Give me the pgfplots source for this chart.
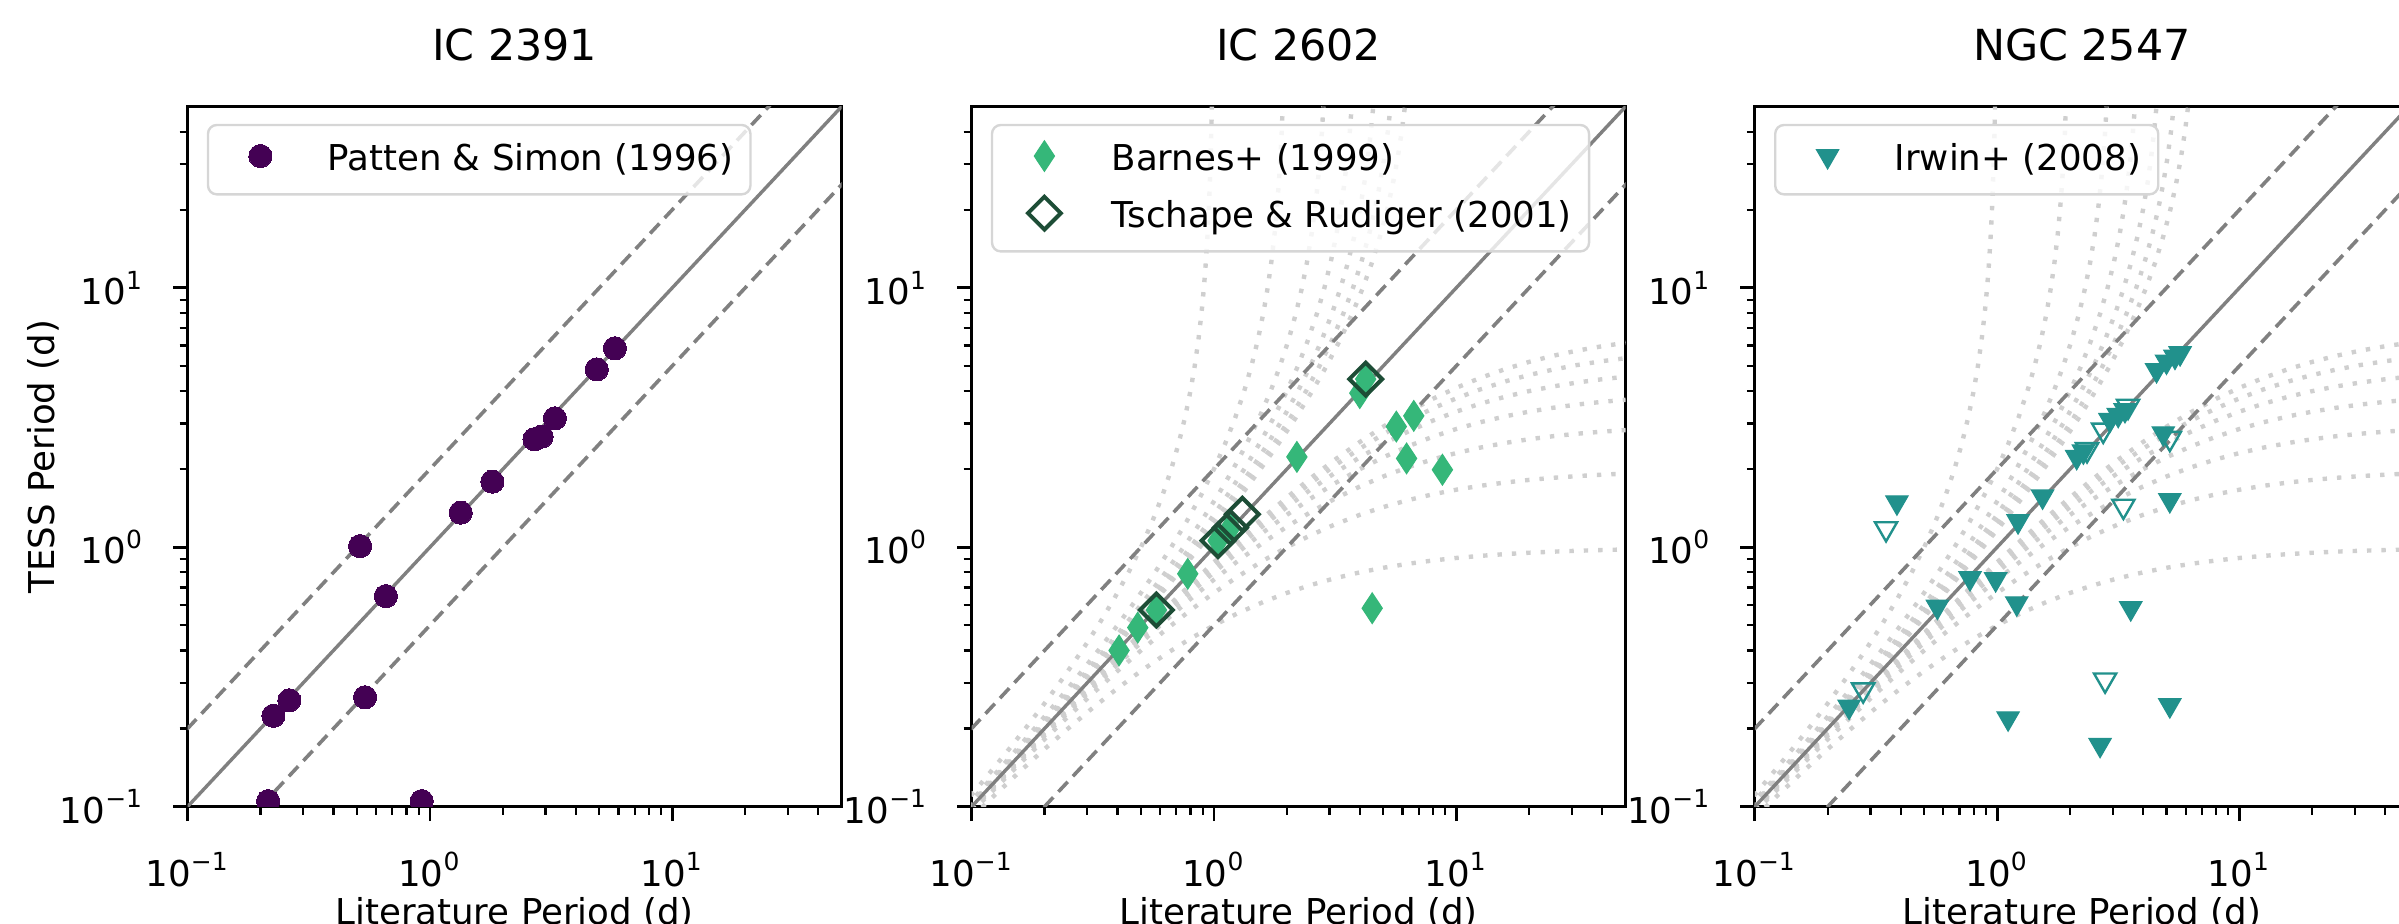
\documentclass[border=0pt]{standalone}
\usepackage{pgfplots}
\pgfplotsset{compat=1.18}
\usepackage{pgfplotstable}
\usepackage{fontspec}
\setmainfont{DejaVu Sans}
\definecolor{cpurple}{HTML}{440154}
\definecolor{cgreen}{HTML}{35B779}
\definecolor{cdark}{HTML}{1D4D36}
\definecolor{cteal}{HTML}{21918C}
\definecolor{lgray}{HTML}{D6D6D6}
\definecolor{refgray}{HTML}{808080}
\definecolor{curvegray}{HTML}{CFCFCF}
\newcommand{\lblfont}{\fontsize{8.9pt}{10.7pt}\selectfont}
\newcommand{\ttlfont}{\fontsize{10.7pt}{13pt}\selectfont}
\newcommand{\tl}[1]{10\textsuperscript{#1}}

% alias curves y = xT/(x+T), T = 1..7
\pgfplotstableread{
x l1 l2 l3 l4 l5 l6 l7
0.1 0.0909 0.0952 0.0968 0.0976 0.0980 0.0984 0.0986
0.125 0.1111 0.1176 0.1200 0.1212 0.1220 0.1224 0.1228
0.16 0.1379 0.1481 0.1519 0.1538 0.1550 0.1558 0.1564
0.2 0.1667 0.1818 0.1875 0.1905 0.1923 0.1935 0.1944
0.25 0.2000 0.2222 0.2308 0.2353 0.2381 0.2400 0.2414
0.315 0.2395 0.2721 0.2851 0.2920 0.2963 0.2993 0.3014
0.4 0.2857 0.3333 0.3529 0.3636 0.3704 0.3750 0.3784
0.5 0.3333 0.4000 0.4286 0.4444 0.4545 0.4615 0.4667
0.63 0.3865 0.4791 0.5207 0.5443 0.5595 0.5701 0.5780
0.8 0.4444 0.5714 0.6316 0.6667 0.6897 0.7059 0.7179
1 0.5000 0.6667 0.7500 0.8000 0.8333 0.8571 0.8750
1.25 0.5556 0.7692 0.8824 0.9524 1.0000 1.0345 1.0606
1.6 0.6154 0.8889 1.0435 1.1429 1.2121 1.2632 1.3023
2 0.6667 1.0000 1.2000 1.3333 1.4286 1.5000 1.5556
2.5 0.7143 1.1111 1.3636 1.5385 1.6667 1.7647 1.8421
3.15 0.7590 1.2233 1.5366 1.7622 1.9325 2.0656 2.1724
4 0.8000 1.3333 1.7143 2.0000 2.2222 2.4000 2.5455
5 0.8333 1.4286 1.8750 2.2222 2.5000 2.7273 2.9167
6.3 0.8630 1.5181 2.0323 2.4466 2.7876 3.0732 3.3158
8 0.8889 1.6000 2.1818 2.6667 3.0769 3.4286 3.7333
10 0.9091 1.6667 2.3077 2.8571 3.3333 3.7500 4.1176
12.5 0.9259 1.7241 2.4194 3.0303 3.5714 4.0541 4.4872
16 0.9412 1.7778 2.5263 3.2000 3.8095 4.3636 4.8696
20 0.9524 1.8182 2.6087 3.3333 4.0000 4.6154 5.1852
25 0.9615 1.8519 2.6786 3.4483 4.1667 4.8387 5.4688
31.5 0.9692 1.8806 2.7391 3.5493 4.3151 5.0400 5.7273
40 0.9756 1.9048 2.7907 3.6364 4.4444 5.2174 5.9574
50 0.9804 1.9231 2.8302 3.7037 4.5455 5.3571 6.1404
}\curvetab

\pgfplotsset{
  every axis/.append style={
    scale only axis, width=163.5pt, height=175pt, anchor=south west,
    xmin=0.1, xmax=50, ymin=0.1, ymax=50,
    axis line style={line width=0.7pt, black},
    tick align=outside, tick pos=left,
    xtick={0.1,1,10}, ytick={0.1,1,10},
    xticklabels={\tl{−1},\tl{0},\tl{1}},
    yticklabels={\tl{−1},\tl{0},\tl{1}},
    minor xtick={0.2,0.3,0.4,0.5,0.6,0.7,0.8,0.9,2,3,4,5,6,7,8,9,20,30,40},
    minor ytick={0.2,0.3,0.4,0.5,0.6,0.7,0.8,0.9,2,3,4,5,6,7,8,9,20,30,40},
    major tick length=3.6pt, minor tick length=2pt,
    major tick style={line width=0.7pt, black},
    minor tick style={line width=0.55pt, black},
    xticklabel style={font=\lblfont, inner sep=0pt, anchor=base, yshift=-16.3pt},
    yticklabel style={font=\lblfont, inner sep=0pt, anchor=east, xshift=-7.1pt},
    title style={font=\ttlfont, inner sep=0pt, at={(axis description cs:0.5,1.0309)}, anchor=base},
    xlabel style={font=\lblfont, inner sep=0pt, at={(axis description cs:0.5,-0.1686)}, anchor=base},
    ylabel style={font=\lblfont, inner sep=0pt, at={(axis description cs:-0.221,0.5)}, anchor=center},
    clip marker paths=true,
    legend cell align=left,
    legend style={at={(axis description cs:0,1)}, anchor=north west, xshift=4.8pt, yshift=-4.3pt,
      draw=lgray, line width=0.6pt, rounded corners=2.2pt, fill=white, fill opacity=0.8,
      draw opacity=1, text opacity=1, inner xsep=4.3pt, inner ysep=3.67pt, row sep=4.27pt,
      column sep=0pt, font=\lblfont,
      nodes={inner sep=0pt, text height=0.76em, text depth=0.24em}},
    legend image code/.code={\path (0pt,0pt) (25pt,0pt);
      \draw[##1, sharp corners, fill opacity=1, draw opacity=1] plot coordinates {(8.5pt,0.9pt)};},
  },
  refsolid/.style={refgray, line width=0.85pt, forget plot},
  refdash/.style={refgray, line width=0.9pt, dash pattern=on 3.4pt off 1.9pt, forget plot},
  curve/.style={curvegray, line width=1.1pt, dash pattern=on 1.1pt off 2.5pt, forget plot},
}

\begin{document}
\begin{tikzpicture}

% ---------------- IC 2391 ----------------
\begin{loglogaxis}[at={(46.9pt,29.1pt)}, title={IC 2391},
  xlabel={Literature Period (d)}, ylabel={TESS Period (d)}]
\addplot[refsolid] coordinates {(0.05,0.05) (100,100)};
\addplot[refdash] coordinates {(0.05,0.1) (50,100)};
\addplot[refdash] coordinates {(0.1,0.05) (100,50)};
\addplot[only marks, mark=*, mark size=2.9pt, color=cpurple, mark options={line width=0pt}] table {
x y
0.215 0.105
0.925 0.105
0.226 0.224
0.263 0.257
0.54 0.264
0.515 1.01
0.658 0.648
1.34 1.36
1.81 1.79
2.70 2.61
2.89 2.67
3.28 3.14
4.88 4.85
5.8 5.85
};
\addlegendentry{Patten \& Simon (1996)}
\end{loglogaxis}

% ---------------- IC 2602 ----------------
\begin{loglogaxis}[at={(242.9pt,29.1pt)}, title={IC 2602},
  xlabel={Literature Period (d)}]
\pgfplotsinvokeforeach{1,...,7}{
  \addplot[curve] table[x=x, y=l#1] {\curvetab};
  \addplot[curve] table[x=l#1, y=x] {\curvetab};
}
\addplot[refsolid] coordinates {(0.05,0.05) (100,100)};
\addplot[refdash] coordinates {(0.05,0.1) (50,100)};
\addplot[refdash] coordinates {(0.1,0.05) (100,50)};
\addplot[only marks, mark=diamond*, mark size=3.8pt, color=cgreen,
  mark options={xscale=0.88, line width=0.3pt, sharp corners}] table {
x y
0.406 0.400
0.485 0.490
0.579 0.573
0.78 0.79
1.04 1.06
1.17 1.19
2.20 2.23
4.0 3.93
4.23 4.45
5.66 2.92
6.68 3.21
6.24 2.20
8.77 1.99
4.5 0.582
};
\addlegendentry{Barnes+ (1999)}
\addplot[only marks, mark=square, mark size=2.9pt, color=cdark,
  mark options={rotate=45, line width=1pt, sharp corners, fill=none}] table {
x y
0.579 0.573
1.04 1.06
1.17 1.19
1.31 1.34
4.23 4.45
};
\addlegendentry{Tschape \& Rudiger (2001)}
\end{loglogaxis}

% ---------------- NGC 2547 ----------------
\begin{loglogaxis}[at={(438.7pt,29.1pt)}, title={NGC 2547},
  xlabel={Literature Period (d)}]
\pgfplotsinvokeforeach{1,...,7}{
  \addplot[curve] table[x=x, y=l#1] {\curvetab};
  \addplot[curve] table[x=l#1, y=x] {\curvetab};
}
\addplot[refsolid] coordinates {(0.05,0.05) (100,100)};
\addplot[refdash] coordinates {(0.05,0.1) (50,100)};
\addplot[refdash] coordinates {(0.1,0.05) (100,50)};
\addplot[only marks, mark=triangle*, mark size=3.2pt, color=cteal,
  mark options={rotate=180, line width=0.3pt, sharp corners}] table {
x y
0.245 0.243
0.386 1.49
0.567 0.59
0.773 0.76
0.986 0.753
1.205 0.608
1.22 1.26
1.54 1.57
1.11 0.219
2.66 0.173
3.56 0.582
5.16 0.246
5.16 1.52
4.85 2.75
2.13 2.23
2.27 2.34
2.92 3.10
3.16 3.24
3.37 3.38
4.55 4.82
5.0 5.2
5.42 5.43
5.69 5.6
};
\addlegendentry{Irwin+ (2008)}
\addplot[only marks, mark=triangle, mark size=3.2pt, color=cteal, forget plot,
  mark options={rotate=180, line width=0.6pt, sharp corners}] table {
x y
0.348 1.18
0.28 0.282
3.32 1.44
2.79 0.308
5.16 2.63
2.74 2.83
3.47 3.50
2.35 2.38
};
\end{loglogaxis}

\pgfresetboundingbox
\useasboundingbox (0pt,0pt) rectangle (599.75pt,230.75pt);
\end{tikzpicture}
\end{document}
